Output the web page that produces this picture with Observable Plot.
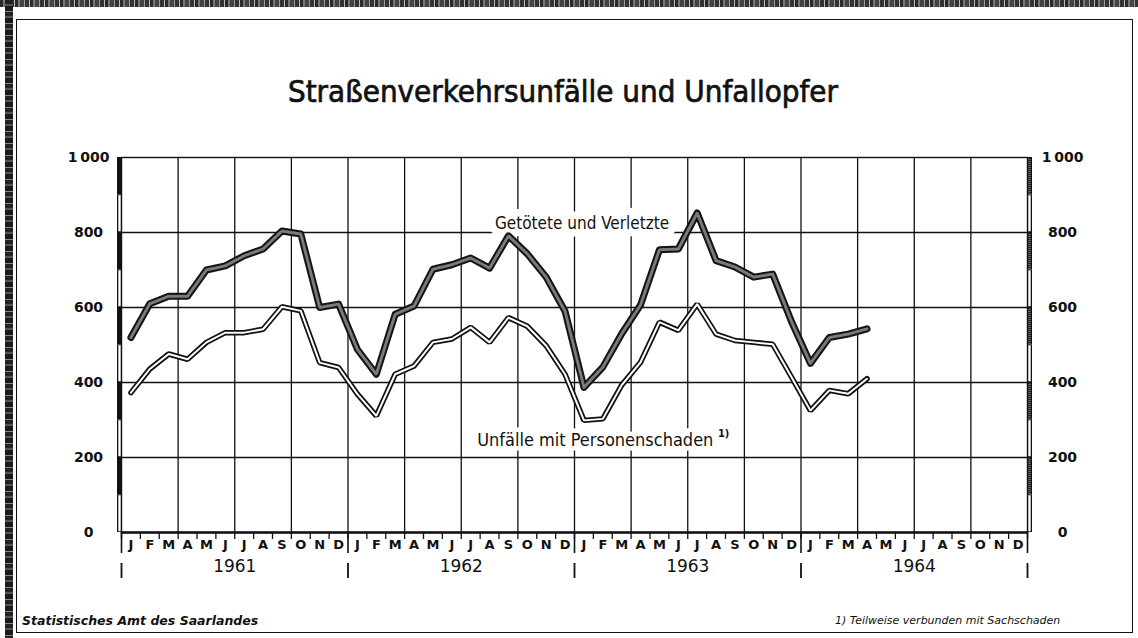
<!DOCTYPE html>
<html>
<head>
<meta charset="utf-8">
<script src="https://cdn.jsdelivr.net/npm/d3@7"></script>
<script src="https://cdn.jsdelivr.net/npm/@observablehq/plot@0.6"></script>
<style>
  html, body { margin: 0; padding: 0; background: #fff; }
  #page { position: relative; width: 1138px; height: 638px; overflow: hidden; background: #fff; }
  #chart { position: absolute; left: 0; top: 0; }
  .band-top { position: absolute; left: 0; top: 0; width: 1138px; height: 7px;
    background: repeating-linear-gradient(90deg, #2a2a2a 0 3px, #777 3px 5px, #444 5px 9px, #999 9px 10px, #333 10px 14px, #bbb 14px 15px); }
  .band-left { position: absolute; left: 5px; top: 0; width: 8px; height: 638px;
    background: repeating-linear-gradient(180deg, #222 0 4px, #555 4px 6px, #1a1a1a 6px 11px, #888 11px 12px); }
  .frame { position: absolute; left: 16px; top: 19px; width: 1117px; height: 614px; border: 1.5px solid #111; box-sizing: border-box; }
  #title { position: absolute; top: 73px; left: 0; width: 1126px; text-align: center;
    font-family: "DejaVu Sans Condensed", "Liberation Sans Narrow", "DejaVu Sans", sans-serif; font-stretch: condensed;
    font-size: 31px; font-weight: normal; -webkit-text-stroke: 0.7px #111; color: #111; }
  #src { position: absolute; left: 22px; top: 613px; font-family: "DejaVu Sans", sans-serif; font-style: italic; font-weight: bold; font-size: 12.5px; color: #111; }
  #note { position: absolute; left: 835px; top: 614px; font-family: "DejaVu Sans", sans-serif; font-style: italic; font-size: 11px; color: #111; }
</style>
</head>
<body>
<div id="page">
  <div class="band-top"></div>
  <div class="band-left"></div>
  <div class="frame"></div>
  <div id="chart"></div>
  <div id="title">Straßenverkehrsunfälle und Unfallopfer</div>
  <div id="src">Statistisches Amt des Saarlandes</div>
  <div id="note">1) Teilweise verbunden mit Sachschaden</div>
</div>
<script>
// ---- data (Jan 1961 – Apr 1964, monthly) ----
const monthLetters = ["J","F","M","A","M","J","J","A","S","O","N","D"];
const years = [1961, 1962, 1963, 1964];
const getoetete = [520,610,630,630,700,711,738,756,804,796,600,609,
                   488,422,582,604,702,714,732,705,791,743,681,590,
                   387,441,530,607,754,756,852,725,708,681,689,562,
                   451,520,529,543];
const unfaelle  = [373,436,476,462,507,533,533,542,602,591,453,440,
                   369,311,422,444,507,516,547,507,573,550,498,422,
                   299,303,393,454,561,539,609,529,512,507,502,414,
                   325,379,370,410];
const yTicks = [0, 200, 400, 600, 800, 1000];
const labelGet = "Getötete und Verletzte";
const labelUnf = "Unfälle mit Personenschaden";
const labelUnfNote = "1)";

// ---- derived tables ----
const series = getoetete.map((g, i) => ({i, g, u: unfaelle[i]}));
const monthCells = years.flatMap((yr, k) => monthLetters.map((m, j) => ({idx: k * 12 + j, m})));
const yearCells = years.map((yr, k) => ({idx: k * 12, yr}));
const monthBounds = d3.range(0, years.length * 12 + 1);
const yearBounds = d3.range(0, years.length * 12 + 1, 12);
const quarterGrid = d3.range(3, years.length * 12, 3);
const segs = d3.range(0, 1000, 100);
const fmt = d => d === 1000 ? "1\u2009000" : String(d);
const xm = d => d.i + 0.5;
const ink = "#111";
const cond = "'DejaVu Sans Condensed', 'Liberation Sans Narrow', 'DejaVu Sans', sans-serif";

const chart = Plot.plot({
  width: 1138, height: 638,
  marginLeft: 121, marginRight: 111, marginTop: 157, marginBottom: 106,
  x: {domain: [0, 48], axis: null},
  y: {domain: [0, 1000], axis: null},
  style: {background: "transparent", fontFamily: "'DejaVu Sans', sans-serif", color: ink},
  marks: [
    Plot.ruleY([200, 400, 600, 800], {stroke: ink, strokeWidth: 1.3}),
    Plot.ruleX(quarterGrid, {stroke: ink, strokeWidth: 1.3}),
    Plot.frame({stroke: ink, strokeWidth: 1.4}),
    Plot.ruleY([0], {stroke: ink, strokeWidth: 2.6}),
    // left scale bar
    Plot.ruleX(segs, {x: 0, y1: d => d, y2: d => d + 100, stroke: ink, strokeWidth: 5, dx: -2}),
    Plot.ruleX(segs.filter(d => d % 200 === 0), {x: 0, y1: d => d + 2, y2: d => d + 98, stroke: "#fff", strokeWidth: 2.4, dx: -2}),
    // right scale bar
    Plot.ruleX(segs, {x: 48, y1: d => d, y2: d => d + 100, stroke: ink, strokeWidth: 5, dx: 2}),
    Plot.ruleX(segs.filter(d => d % 200 === 0), {x: 48, y1: d => d + 2, y2: d => d + 98, stroke: "#fff", strokeWidth: 2.4, dx: 2}),
    Plot.ruleX(segs.filter(d => d % 200 !== 0), {x: 48, y1: d => d + 2, y2: d => d + 98, stroke: "#888", strokeWidth: 2.4, strokeDasharray: "1 1", dx: 2}),
    // y axes
    Plot.axisY(yTicks, {anchor: "left", tickSize: 0, tickPadding: 33, textAnchor: "middle", tickFormat: fmt, fontSize: 14, fontWeight: "bold", fill: ink, label: null}),
    Plot.axisY(yTicks, {anchor: "right", tickSize: 0, tickPadding: 35, textAnchor: "middle", tickFormat: fmt, fontSize: 14, fontWeight: "bold", fill: ink, label: null}),
    // x axis ticks
    Plot.axisX(monthBounds, {tickSize: 7, tickFormat: () => "", stroke: ink, strokeWidth: 1.3, label: null}),
    Plot.axisX(yearBounds, {tickSize: 21, tickFormat: () => "", stroke: ink, strokeWidth: 1.6, label: null}),
    Plot.axisX(yearBounds, {tickSize: 15, dy: 31, tickFormat: () => "", stroke: ink, strokeWidth: 1.8, label: null}),
    Plot.text(monthCells, {x: d => d.idx + 0.5, text: "m", frameAnchor: "bottom", dy: 16, fontSize: 13, fontWeight: "bold", fill: ink}),
    Plot.text(yearCells, {x: d => d.idx + 6, text: d => String(d.yr), frameAnchor: "bottom", dy: 39, fontSize: 17, fill: ink}),
    // series labels (white halo masks the grid)
    Plot.text([labelGet], {x: 24.4, y: 824, text: d => d, fontSize: 17, fontFamily: cond, fill: ink, stroke: "#fff", strokeWidth: 15}),
    Plot.text([labelUnf], {x: 25.1, y: 245, text: d => d, fontSize: 18, fontFamily: cond, fill: ink, stroke: "#fff", strokeWidth: 9}),
    Plot.text([labelUnfNote], {x: 31.9, y: 263, text: d => d, fontSize: 11, fontWeight: "bold", fontFamily: cond, fill: ink, stroke: "#fff", strokeWidth: 5}),
    // lines
    Plot.line(series, {x: xm, y: "g", stroke: "#141414", strokeWidth: 7, strokeLinejoin: "round", strokeLinecap: "round"}),
    Plot.line(series, {x: xm, y: "g", stroke: "#7a7a7a", strokeWidth: 3, strokeDasharray: "1 1.5", strokeLinejoin: "round"}),
    Plot.line(series, {x: xm, y: "u", stroke: ink, strokeWidth: 5.5, strokeLinejoin: "miter"}),
    Plot.line(series, {x: xm, y: "u", stroke: "#fff", strokeWidth: 2, strokeLinejoin: "miter"})
  ]
});
document.getElementById("chart").appendChild(chart);
</script>
</body>
</html>
